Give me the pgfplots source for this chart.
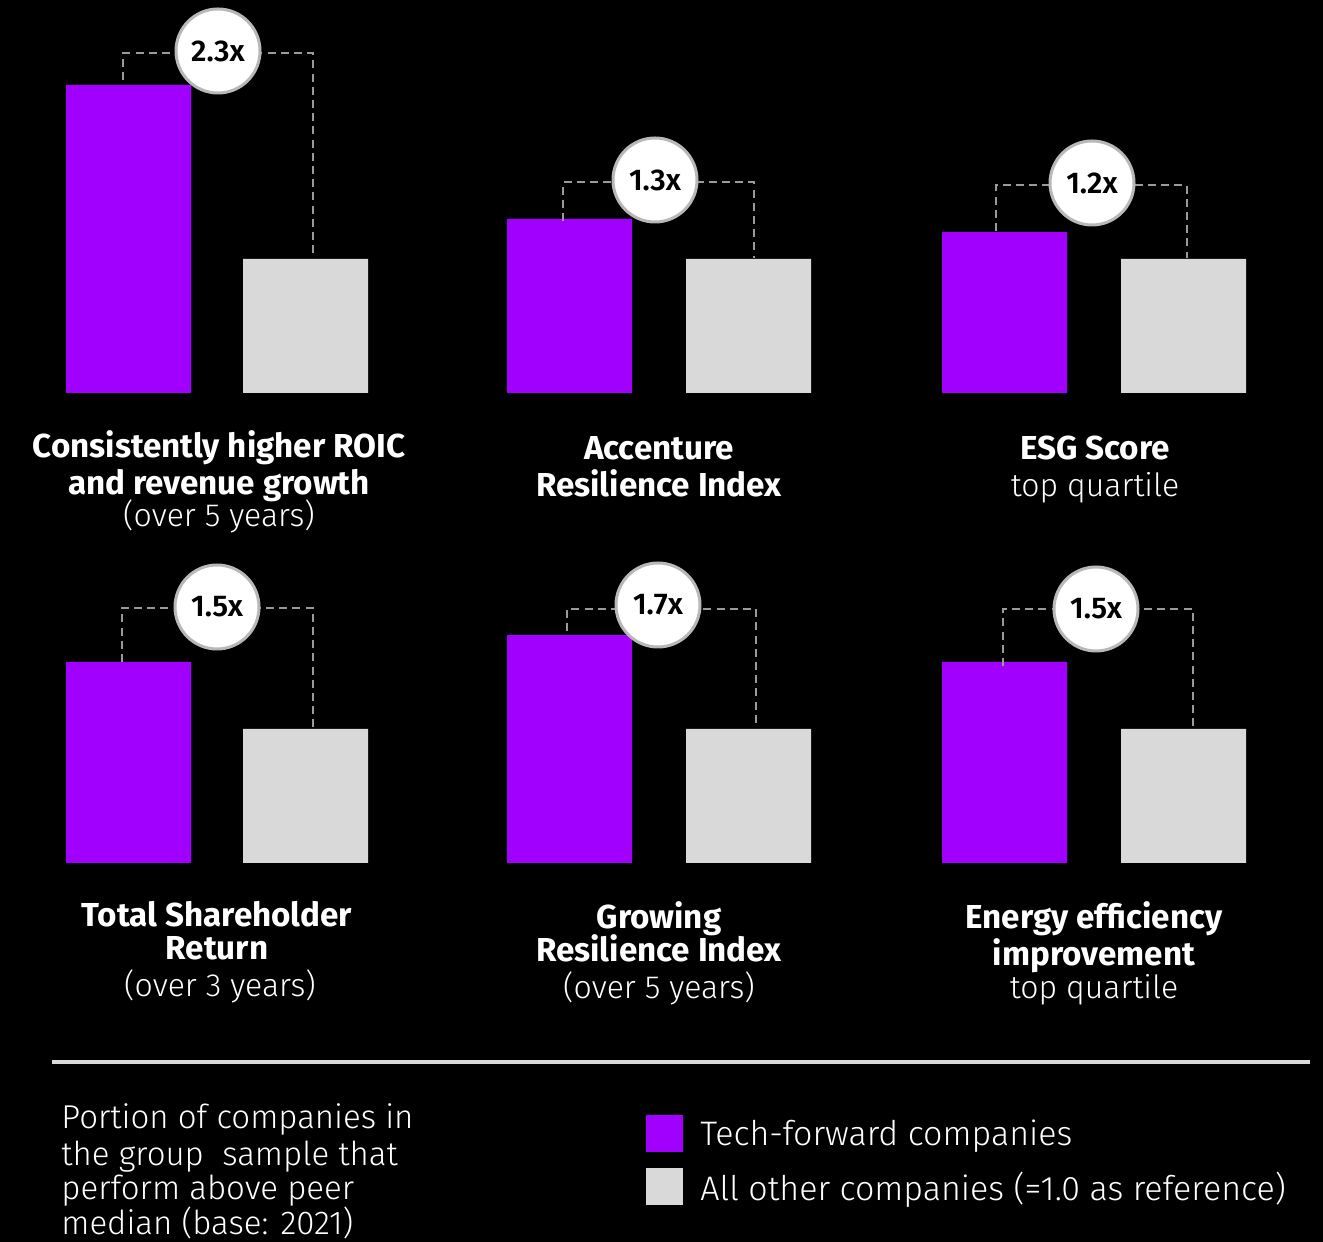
\documentclass[border=0pt]{standalone}
\usepackage{pgfplots}
\pgfplotsset{compat=1.18}
\usepackage{fontspec}
\setmainfont{Fira Sans}[UprightFont={Fira Sans Light}]
\newfontfamily\boldf{Fira Sans}[UprightFont={Fira Sans SemiBold}]
\newfontfamily\heavyf{Fira Sans}[UprightFont={Fira Sans Bold}]
\definecolor{acnpurple}{HTML}{A100FF}
\definecolor{lgray}{HTML}{D9D9D9}
\definecolor{dgray}{HTML}{9A9A9A}
\definecolor{cgray}{HTML}{B8B8B8}
\begin{document}
\begin{tikzpicture}
\fill[black] (0,0) rectangle (661.5pt,621pt);
\pgfplotsset{rowaxis/.style={hide axis, x=0.5pt, y=67pt, xmin=0, xmax=1323, ymin=0, ymax=2.5,
  anchor=origin, clip=false, ybar, bar width=125, /pgf/bar shift=0pt}}
% top row
\begin{axis}[rowaxis, at={(0pt,424.5pt)}]
\addplot[fill=acnpurple, draw=none] coordinates {(128.5,2.3) (569.5,1.3) (1004.5,1.2)};
\addplot[fill=lgray, draw=none] coordinates {(305.5,1.0) (748.5,1.0) (1183.5,1.0)};
\end{axis}
% bottom row
\begin{axis}[rowaxis, at={(0pt,189.5pt)}]
\addplot[fill=acnpurple, draw=none] coordinates {(128.5,1.5) (569.5,1.7) (1004.5,1.5)};
\addplot[fill=lgray, draw=none] coordinates {(305.5,1.0) (748.5,1.0) (1183.5,1.0)};
\end{axis}
\begin{scope}[x=0.5pt, y=-0.5pt, shift={(0pt,621pt)}]
\tikzset{br/.style={draw=dgray, line width=1pt, dash pattern=on 4pt off 2.6pt},
  bub/.style={circle, fill=white, draw=cgray, line width=1.5pt, minimum size=42pt, inner sep=0pt, text=black, font=\boldf\fontsize{15}{16}\selectfont}}
\draw[br] (123,80)--(123,53)--(313,53)--(313,254);
\draw[br] (563,221)--(563,182)--(754,182)--(754,258);
\draw[br] (996,231)--(996,185)--(1187,185)--(1187,258);
\draw[br] (122,662)--(122,608)--(313,608)--(313,727);
\draw[br] (567,631)--(567,609)--(756,609)--(756,727);
\draw[br] (1003,666)--(1003,609)--(1193,609)--(1193,727);
\node[bub] at (218,51) {2.3x};
\node[bub] at (655,180) {1.3x};
\node[bub] at (1092,183) {1.2x};
\node[bub] at (217,607) {1.5x};
\node[bub] at (658,605) {1.7x};
\node[bub] at (1096,609) {1.5x};
\tikzset{lab/.style={text=white, align=center, anchor=base, inner sep=0pt}}
\def\bf{\heavyf\fontsize{16.6}{18}\selectfont}
\def\lf{\fontsize{16}{18}\selectfont}
\node[lab, font=\bf] at (219,458) {Consistently higher ROIC};
\node[lab, font=\bf] at (219,495) {and revenue growth};
\node[lab, font=\lf] at (219,527) {(over 5 years)};
\node[lab, font=\bf] at (659,460) {Accenture};
\node[lab, font=\bf] at (659,497) {Resilience Index};
\node[lab, font=\bf] at (1095,460) {ESG Score};
\node[lab, font=\lf] at (1095,497) {top quartile};
\node[lab, font=\bf] at (217,927) {Total Shareholder};
\node[lab, font=\bf] at (217,960) {Return};
\node[lab, font=\lf] at (220,997) {(over 3 years)};
\node[lab, font=\bf] at (659,929) {Growing};
\node[lab, font=\bf] at (659,962) {Resilience Index};
\node[lab, font=\lf] at (659,999) {(over 5 years)};
\node[lab, font=\bf] at (1094,929) {Energy efficiency};
\node[lab, font=\bf] at (1094,966) {improvement};
\node[lab, font=\lf] at (1094,999) {top quartile};
\draw[lgray, line width=2pt] (52,1062)--(1310,1062);
\tikzset{foot/.style={text=white, anchor=base west, inner sep=0pt, font=\fontsize{16.5}{17}\selectfont},
  leg/.style={text=white, anchor=base west, inner sep=0pt, font=\fontsize{17}{17}\selectfont}}
\node[foot] at (61,1129) {Portion of companies in};
\node[foot] at (61,1166) {the group\ \ sample that};
\node[foot] at (61,1200) {perform above peer};
\node[foot] at (61,1235) {median (base: 2021)};
\fill[acnpurple] (646,1115) rectangle (683,1152);
\fill[lgray] (646,1168) rectangle (683,1205);
\node[leg] at (700,1146) {Tech-forward companies};
\node[leg] at (700,1201) {All other companies (=1.0 as reference)};
\end{scope}
\pgfresetboundingbox
\useasboundingbox (0,0) rectangle (661.5pt,621pt);
\end{tikzpicture}
\end{document}
